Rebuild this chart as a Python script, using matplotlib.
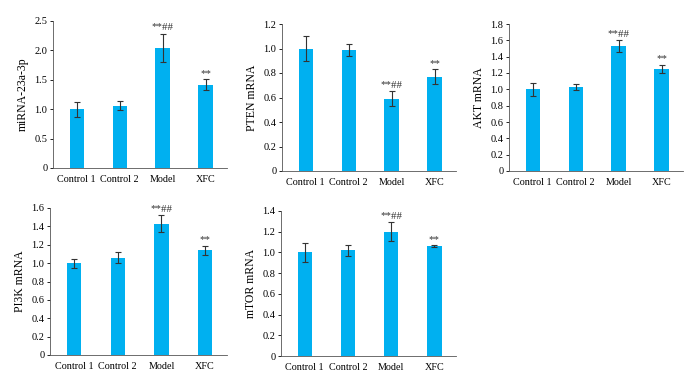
import numpy as np
import matplotlib.pyplot as plt

plt.rcParams['font.family'] = ['Liberation Serif', 'DejaVu Serif']

groups = ["Control 1", "Control 2", "Model", "XFC"]
marks = ["", "", "**##", "**"]

mir_vals = [1.00, 1.06, 2.04, 1.42]
mir_err = [0.13, 0.08, 0.24, 0.09]
pten_vals = [1.00, 0.99, 0.59, 0.77]
pten_err = [0.10, 0.05, 0.06, 0.06]
akt_vals = [1.00, 1.03, 1.53, 1.25]
akt_err = [0.08, 0.04, 0.07, 0.05]
pi3k_vals = [1.00, 1.06, 1.43, 1.14]
pi3k_err = [0.05, 0.06, 0.09, 0.05]
mtor_vals = [1.00, 1.02, 1.20, 1.06]
mtor_err = [0.09, 0.05, 0.09, 0.01]

W, H = 700, 385
fig = plt.figure(figsize=(7, 3.85), dpi=100)

panels = [
    # left, top, width, height (px), label, values, errors, ymax, step
    ((53, 21, 174, 147), "miRNA-23a-3p", mir_vals, mir_err, 2.5, 0.5),
    ((282, 24, 174, 147), "PTEN mRNA", pten_vals, pten_err, 1.2, 0.2),
    ((509, 24, 174, 147), "AKT mRNA", akt_vals, akt_err, 1.8, 0.2),
    ((50, 208, 177, 147), "PI3K mRNA", pi3k_vals, pi3k_err, 1.6, 0.2),
    ((281, 211, 175, 145), "mTOR mRNA", mtor_vals, mtor_err, 1.4, 0.2),
]

for (l, t, w, h), label, vals, errs, ymax, step in panels:
    ax = fig.add_axes([l / W, 1 - (t + h) / H, w / W, h / H])
    x = np.arange(len(groups))
    ax.bar(x, vals, width=0.33, color="#00b0f0")
    ax.errorbar(x, vals, yerr=errs, fmt="none", ecolor="#333333",
                elinewidth=0.8, capsize=2, capthick=0.8)
    for xi, v, e, m in zip(x, vals, errs, marks):
        if m:
            ax.text(xi, v + e + ymax * 0.01, m, ha="center", va="bottom",
                    fontsize=7.8, color="#333333")
    ax.set_xlim(-0.55, 3.5)
    ax.set_ylim(0, ymax)
    ticks = np.arange(0, ymax + step / 2, step)
    ax.set_yticks(ticks)
    ax.set_yticklabels(["0"] + ["%.1f" % v for v in ticks[1:]])
    ax.set_xticks(x)
    ax.set_xticklabels(groups)
    ax.tick_params(axis="x", length=0, pad=5, labelsize=7.3)
    ax.tick_params(axis="y", length=2, width=0.6, pad=2, labelsize=7.5)
    ax.set_ylabel(label, fontsize=8.5, labelpad=4)
    for s in ["top", "right"]:
        ax.spines[s].set_visible(False)
    for s in ["left", "bottom"]:
        ax.spines[s].set_linewidth(0.6)
        ax.spines[s].set_color("#555555")

fig.savefig("out.png", dpi=100)
